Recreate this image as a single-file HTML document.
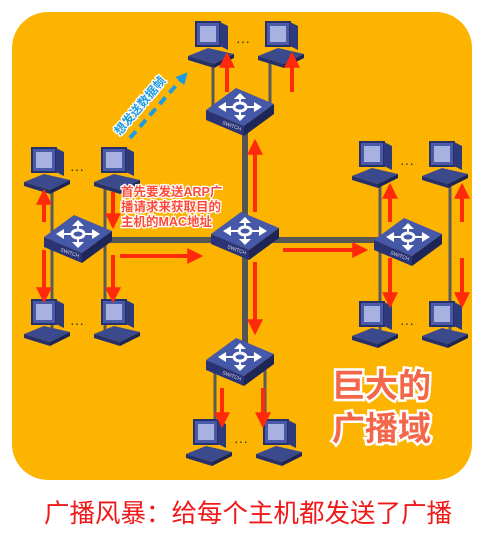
<!DOCTYPE html>
<html><head><meta charset="utf-8"><style>
html,body{margin:0;padding:0;background:#fff;}
body{width:491px;height:544px;overflow:hidden;position:relative;font-family:"Liberation Sans","Noto Sans CJK SC",sans-serif;}
.cap{position:absolute;left:44px;top:493px;white-space:nowrap;font-size:25.5px;color:#f01818;}
</style></head><body>
<svg width="491" height="544" xmlns="http://www.w3.org/2000/svg" style="position:absolute;left:0;top:0">
<defs>
<g id="pc">
  <polygon points="-22,14 4,22 24,12 -2,6" fill="#3a4a8c"/>
  <polygon points="-22,14 4,22 4,26 -22,18" fill="#26306a"/>
  <polygon points="4,22 24,12 24,16 4,26" fill="#1d2555"/>
  <rect x="-14" y="-20" width="24" height="24" fill="#4a5aa8" stroke="#26306a" stroke-width="2"/>
  <rect x="-10" y="-16" width="16" height="16" fill="#a8b2e0"/>
  <polygon points="10,-20 18,-16 18,8 10,4" fill="#2e3a7a"/>
</g>
<g id="sw">
  <polygon points="-34,2 -4,-20 34,-4 4,18" fill="#4658a8"/>
  <polygon points="-34,2 4,18 4,28 -34,12" fill="#2a3474"/>
  <polygon points="4,18 34,-4 34,6 4,28" fill="#1e2658"/>
  <g fill="#fff">
    <ellipse cx="0" cy="-1" rx="6" ry="4" fill="none" stroke="#fff" stroke-width="3"/>
    <polygon points="-22,-1 -14,-6 -14,4"/><polygon points="22,-1 14,-6 14,4"/>
    <polygon points="0,-15 -6,-9 6,-9"/><polygon points="0,13 -6,7 6,7"/>
    <rect x="-15" y="-2" width="9" height="2"/><rect x="6" y="-2" width="9" height="2"/>
    <rect x="-1" y="-10" width="2" height="6"/><rect x="-1" y="3" width="2" height="6"/>
  </g>
  <text x="-18" y="16" font-size="5" fill="#dde" transform="rotate(20 -18 16)" font-family="Liberation Sans">SWITCH</text>
</g>
<marker id="ah" viewBox="0 0 10 10" refX="8" refY="5" markerWidth="4" markerHeight="4" orient="auto"><path d="M0,0 L10,5 L0,10 z" fill="#ff2a0a"/></marker>
<marker id="bh" viewBox="0 0 10 10" refX="8" refY="5" markerWidth="3" markerHeight="3" orient="auto"><path d="M0,0 L10,5 L0,10 z" fill="#1e9be0"/></marker>
</defs>
<rect x="12" y="12" width="460" height="468" rx="36" fill="#fdb400"/>
<g stroke="#5a5a5a" stroke-width="3">
<line x1="213" y1="60" x2="213" y2="108"/><line x1="270" y1="60" x2="270" y2="108"/>
<line x1="52" y1="186" x2="52" y2="330"/><line x1="105" y1="186" x2="105" y2="330"/>
<line x1="380" y1="180" x2="380" y2="330"/><line x1="450" y1="180" x2="450" y2="330"/>
<line x1="215" y1="358" x2="215" y2="430"/><line x1="265" y1="358" x2="265" y2="430"/>
</g>
<g stroke="#555" stroke-width="6">
<line x1="245" y1="108" x2="245" y2="358"/><line x1="78" y1="240" x2="408" y2="240"/>
</g>
<use href="#pc" x="210" y="42"/><use href="#pc" x="280" y="42"/>
<use href="#pc" x="46" y="168"/><use href="#pc" x="116" y="168"/>
<use href="#pc" x="46" y="320"/><use href="#pc" x="116" y="320"/>
<use href="#pc" x="374" y="162"/><use href="#pc" x="444" y="162"/>
<use href="#pc" x="374" y="322"/><use href="#pc" x="444" y="322"/>
<use href="#pc" x="208" y="440"/><use href="#pc" x="278" y="440"/>
<g font-size="14" fill="#333" font-family="Liberation Sans">
<text x="236" y="46">···</text><text x="70" y="174">···</text><text x="70" y="328">···</text>
<text x="400" y="168">···</text><text x="400" y="328">···</text><text x="234" y="446">···</text>
</g>
<use href="#sw" x="240" y="108"/><use href="#sw" x="245" y="232"/>
<use href="#sw" x="78" y="235"/><use href="#sw" x="408" y="238"/><use href="#sw" x="240" y="358"/>
<g stroke="#ff2a0a" stroke-width="4" marker-end="url(#ah)" fill="none">
<line x1="227" y1="92" x2="227" y2="55"/><line x1="292" y1="92" x2="292" y2="55"/>
<line x1="255" y1="212" x2="255" y2="142"/>
<line x1="44" y1="222" x2="44" y2="192"/><line x1="44" y1="250" x2="44" y2="300"/>
<line x1="113" y1="192" x2="113" y2="226"/><line x1="113" y1="255" x2="113" y2="300"/>
<line x1="120" y1="256" x2="200" y2="256"/>
<line x1="283" y1="250" x2="365" y2="250"/>
<line x1="390" y1="222" x2="390" y2="186"/><line x1="462" y1="222" x2="462" y2="186"/>
<line x1="390" y1="258" x2="390" y2="305"/><line x1="462" y1="258" x2="462" y2="305"/>
<line x1="255" y1="262" x2="255" y2="332"/>
<line x1="222" y1="388" x2="222" y2="425"/><line x1="263" y1="388" x2="263" y2="425"/>
</g>
<line x1="130" y1="138" x2="186" y2="74" stroke="#1e9be0" stroke-width="4" stroke-dasharray="9,6" marker-end="url(#bh)"/>
<text x="0" y="0" font-size="12" font-weight="bold" fill="#1e9be0" stroke="#fff" stroke-width="2.5" paint-order="stroke" transform="translate(120,136) rotate(-50)" font-family="Liberation Sans,Noto Sans CJK SC,sans-serif">想发送数据帧</text>
<g font-size="12.5" font-weight="bold" fill="#ff4a3a" stroke="#fff" stroke-width="2.5" paint-order="stroke" font-family="Liberation Sans,Noto Sans CJK SC,sans-serif">
<text x="121" y="196">首先要发送ARP广</text>
<text x="121" y="211">播请求来获取目的</text>
<text x="121" y="226">主机的MAC地址</text>
</g>
<g font-size="33" font-weight="bold" fill="#f4664a" stroke="#fff" stroke-width="5" paint-order="stroke" font-family="Noto Sans CJK SC,sans-serif">
<text x="332" y="397">巨大的</text>
<text x="332" y="440">广播域</text>
</g>
</svg>
<div class="cap">广播风暴：给每个主机都发送了广播</div>
</body></html>
